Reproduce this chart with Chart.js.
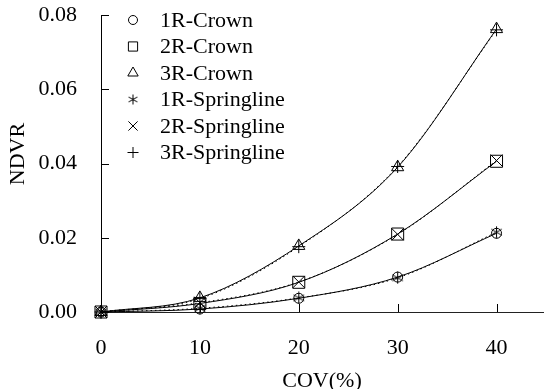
<!DOCTYPE html>
<html>
<head>
<meta charset="utf-8">
<script src="https://cdn.jsdelivr.net/npm/chart.js@4/dist/chart.umd.min.js"></script>
<style>
  html, body { margin: 0; padding: 0; background: #fff; }
  #wrap { width: 544px; height: 389px; }
</style>
</head>
<body>
<div id="wrap"><canvas id="chart" width="544" height="389"></canvas></div>
<script>
// COV values (%)
var covValues = [0, 10, 20, 30, 40];
var xTickValues = [0, 10, 20, 30, 40];
var yTickValues = [0, 0.02, 0.04, 0.06, 0.08];

// NDVR
var crown1R = [0, 0.0008, 0.0037, 0.0094, 0.0212];
var crown2R = [0, 0.0023, 0.0080, 0.0210, 0.0406];
var crown3R = [0, 0.0038, 0.0178, 0.0390, 0.0762];
var spring1R = [0, 0.0010, 0.0038, 0.0092, 0.0215];
var spring2R = [0, 0.0025, 0.0081, 0.0209, 0.0408];
var spring3R = [0, 0.0036, 0.0176, 0.0392, 0.0760];

var seriesLabels = ['1R-Crown', '2R-Crown', '3R-Crown', '1R-Springline', '2R-Springline', '3R-Springline'];
var seriesValues = [crown1R, crown2R, crown3R, spring1R, spring2R, spring3R];

var FONT = '"Liberation Serif", "Times New Roman", serif';

// six-armed asterisk, Chart.js only has an eight-armed star
function makeAsterisk(size) {
  var c = document.createElement('canvas');
  c.width = size; c.height = size;
  var g = c.getContext('2d');
  var m = size / 2, r = size / 2 - 0.5;
  g.strokeStyle = '#000';
  g.lineWidth = 1;
  g.beginPath();
  g.moveTo(m, m - r); g.lineTo(m, m + r);
  g.moveTo(m - r * 0.87, m - r * 0.5); g.lineTo(m + r * 0.87, m + r * 0.5);
  g.moveTo(m - r * 0.87, m + r * 0.5); g.lineTo(m + r * 0.87, m - r * 0.5);
  g.stroke();
  return c;
}

var seriesMarkers = ['circle', 'rect', 'triangle', makeAsterisk(13), 'crossRot', 'cross'];
var legendMarkers = ['circle', 'rect', 'triangle', makeAsterisk(11), 'crossRot', 'cross'];
var markerSizes = [5, 8.5, 7, 6.5, 8.5, 6.5];
var legendSizes = [4.5, 6.5, 6, 5.5, 6.5, 5.5];

function toPoints(values) {
  return covValues.map(function (x, i) { return { x: x, y: values[i] }; });
}

var datasets = seriesLabels.map(function (label, i) {
  var dotted = i >= 3;
  return {
    label: label,
    data: toPoints(seriesValues[i]),
    borderColor: '#000',
    backgroundColor: 'rgba(0,0,0,0)',
    borderWidth: 1,
    borderDash: dotted ? [1.5, 3] : [],
    cubicInterpolationMode: 'monotone',
    pointStyle: seriesMarkers[i],
    pointRadius: markerSizes[i],
    pointBorderColor: '#000',
    pointBackgroundColor: 'rgba(0,0,0,0)',
    pointBorderWidth: 1,
    clip: false
  };
});

// inward tick marks, legend and axis titles
var extrasPlugin = {
  id: 'extras',
  afterDraw: function (chart) {
    var ctx = chart.ctx, area = chart.chartArea;
    var xs = chart.scales.x, ys = chart.scales.y;
    ctx.save();
    ctx.strokeStyle = '#000';
    ctx.lineWidth = 1;
    ctx.beginPath();
    xTickValues.forEach(function (v) {
      var px = Math.round(xs.getPixelForValue(v)) + 0.5;
      ctx.moveTo(px, area.bottom);
      ctx.lineTo(px, area.bottom - 8);
    });
    yTickValues.forEach(function (v) {
      var py = Math.round(ys.getPixelForValue(v)) + 0.5;
      ctx.moveTo(area.left, py);
      ctx.lineTo(area.left + 8, py);
    });
    ctx.stroke();

    ctx.font = '22px ' + FONT;
    ctx.textBaseline = 'middle';
    ctx.textAlign = 'left';
    for (var i = 0; i < seriesLabels.length; i++) {
      var y = 20 + i * 26.5;
      ctx.fillStyle = 'rgba(0,0,0,0)';
      ctx.strokeStyle = '#000';
      ctx.lineWidth = 1;
      ctx.setLineDash([]);
      Chart.helpers.drawPoint(ctx, { pointStyle: legendMarkers[i], rotation: 0, radius: legendSizes[i], borderWidth: 1 }, 133, y);
      ctx.fillStyle = '#000';
      ctx.fillText(seriesLabels[i], 160, y + 1);
    }
    ctx.textAlign = 'center';
    ctx.fillText('COV(%)', 322, 381);
    ctx.translate(18, 154);
    ctx.rotate(-Math.PI / 2);
    ctx.fillText('NDVR', 0, 0);
    ctx.restore();
  }
};

var tickFont = { family: FONT, size: 22 };

new Chart(document.getElementById('chart'), {
  type: 'line',
  data: { datasets: datasets },
  options: {
    responsive: false,
    animation: false,
    layout: { autoPadding: false, padding: { left: 0, top: 15, right: 0, bottom: 0 } },
    plugins: { legend: { display: false }, tooltip: { enabled: false } },
    scales: {
      x: {
        type: 'linear',
        min: 0,
        max: 44.8,
        afterBuildTicks: function (scale) {
          scale.ticks = xTickValues.map(function (v) { return { value: v }; });
        },
        afterFit: function (scale) { scale.height = 77; },
        grid: { drawOnChartArea: false, drawTicks: true, tickLength: 23, tickColor: 'rgba(0,0,0,0)' },
        border: { color: '#222', width: 1 },
        ticks: { color: '#000', font: tickFont, padding: 0, maxRotation: 0 }
      },
      y: {
        type: 'linear',
        min: 0,
        max: 0.08,
        afterBuildTicks: function (scale) {
          scale.ticks = yTickValues.map(function (v) { return { value: v }; });
        },
        afterFit: function (scale) { scale.width = 101; },
        grid: { drawOnChartArea: false, drawTicks: true, tickLength: 24, tickColor: 'rgba(0,0,0,0)' },
        border: { color: '#000', width: 1 },
        ticks: {
          color: '#000',
          font: tickFont,
          padding: 0,
          callback: function (v) { return v.toFixed(2); }
        }
      }
    }
  },
  plugins: [extrasPlugin]
});
</script>
</body>
</html>
